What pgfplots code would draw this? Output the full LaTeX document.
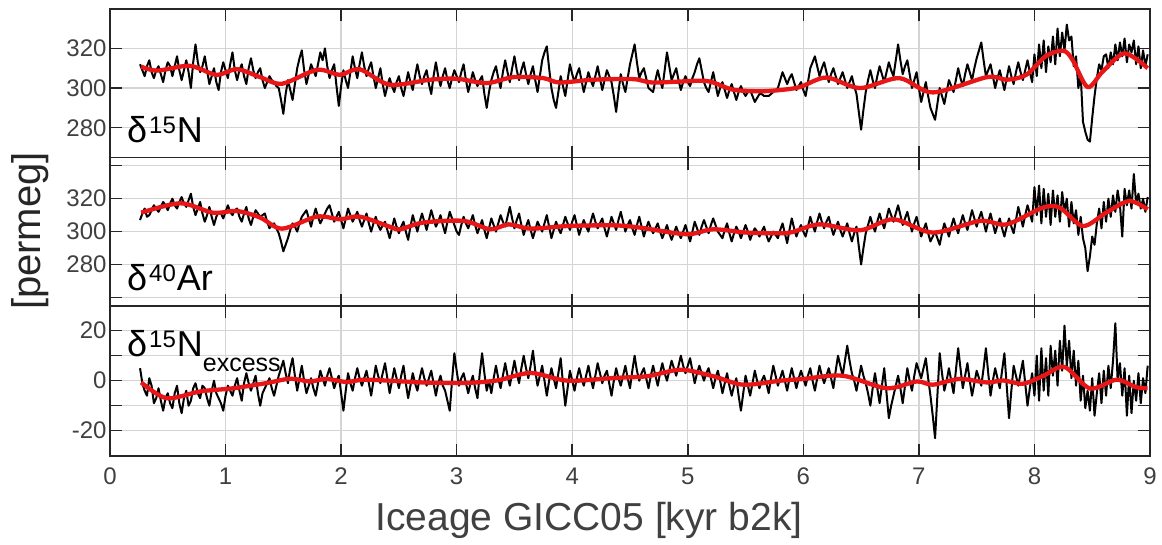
\documentclass[border=0pt]{standalone}
\usepackage{fontspec}
\setmainfont{Liberation Sans}
\usepackage{pgfplots}
\usepackage{pgfplotstable}
\pgfplotsset{compat=1.18}

\definecolor{fitred}{RGB}{232,22,22}
\definecolor{axgray}{RGB}{38,38,38}
\definecolor{lblgray}{RGB}{64,64,64}

% measured series: x [kyr b2k], d15N, d40Ar, d15N excess [permeg]
\pgfplotstableread{
x n a e
0.26 312 307 5
0.28 309 311 -1
0.30 306 314 -4
0.32 311 309 -6
0.34 314 310 1
0.36 308 313 -2
0.38 305 316 -9
0.40 309 314 -7
0.42 311 312 -3
0.44 307 315 -8
0.46 303 318 -12
0.48 309 316 -7
0.50 313 313 -5
0.52 311 317 -9
0.54 306 320 -11
0.56 311 316 -5
0.58 316 314 -2
0.60 309 318 -9
0.62 304 321 -13
0.64 309 317 -7
0.66 314 315 -4
0.68 308 319 -10
0.70 300 323 -8
0.72 313 315 -3
0.74 322 310 -1
0.76 313 314 -5
0.78 308 318 -7
0.80 311 311 -2
0.82 316 306 -3
0.84 309 310 -7
0.86 302 315 -10
0.88 306 309 -4
0.90 310 304 0
0.92 303 309 -5
0.94 299 312 -7
0.96 308 311 -9
0.98 313 308 -12
1.00 309 312 -6
1.02 305 316 -2
1.04 312 312 -4
1.06 318 310 -6
1.08 309 313 -2
1.10 304 314 1
1.12 309 309 -4
1.14 312 306 -8
1.16 306 311 -1
1.18 302 315 3
1.20 310 308 -1
1.22 315 304 -4
1.24 309 309 -1
1.26 305 313 2
1.28 308 311 -5
1.30 310 309 -10
1.32 304 310 -5
1.34 300 311 -3
1.36 303 306 -1
1.38 306 302 1
1.40 304 304 -3
1.42 303 305 -6
1.44 301 302 -2
1.46 300 299 2
1.48 294 294 5
1.50 287 288 8
1.52 297 292 3
1.54 304 296 -1
1.56 299 301 5
1.58 294 305 9
1.60 302 303 2
1.62 310 300 -4
1.64 315 305 1
1.66 319 309 6
1.68 309 311 0
1.70 302 313 -5
1.72 307 308 -2
1.74 312 303 1
1.76 309 309 -3
1.78 306 314 -6
1.80 312 309 -1
1.82 318 305 4
1.84 314 308 1
1.86 320 311 -2
1.88 311 314 2
1.90 305 316 5
1.92 309 311 1
1.94 312 306 -3
1.96 301 309 0
1.98 291 312 2
2.00 301 307 -5
2.02 309 302 -12
2.04 304 308 -4
2.06 300 314 3
2.08 308 310 -1
2.10 316 306 -4
2.12 310 309 1
2.14 305 312 5
2.16 312 307 1
2.18 318 303 -2
2.20 311 307 1
2.22 306 311 4
2.24 310 305 -1
2.26 313 300 -6
2.28 306 305 0
2.30 300 309 6
2.32 305 304 2
2.34 310 301 -1
2.36 302 304 3
2.38 296 306 7
2.40 301 301 1
2.42 305 296 -5
2.44 301 302 0
2.46 298 308 5
2.48 303 303 1
2.50 306 299 -3
2.52 300 303 2
2.54 296 306 6
2.56 302 300 -1
2.58 308 295 -7
2.60 303 303 -2
2.62 299 310 3
2.64 306 305 -1
2.66 312 300 -4
2.68 306 306 1
2.70 302 311 5
2.72 306 306 1
2.74 309 301 -2
2.76 302 307 1
2.78 297 313 4
2.80 306 308 -1
2.82 313 303 -6
2.84 306 306 -1
2.86 301 310 2
2.88 306 304 -2
2.90 310 299 -4
2.92 304 306 -8
2.94 300 312 -12
2.96 305 308 0
2.98 309 304 11
3.00 306 300 4
3.02 303 298 -2
3.04 308 304 1
3.06 312 309 3
3.08 304 305 -1
3.10 298 302 -5
3.12 303 306 -1
3.14 308 310 2
3.16 304 304 -3
3.18 301 299 -7
3.20 304 303 3
3.22 306 307 11
3.24 297 301 3
3.26 290 296 -4
3.28 298 302 0
3.30 304 308 -5
3.32 308 304 1
3.34 311 300 6
3.36 305 305 1
3.38 300 310 -3
3.40 308 306 2
3.42 314 303 7
3.44 308 309 2
3.46 303 315 -2
3.48 310 308 3
3.50 316 302 8
3.52 309 307 3
3.54 304 311 -1
3.56 309 304 5
3.58 313 298 10
3.60 307 303 5
3.62 302 307 1
3.64 307 301 6
3.66 311 296 12
3.68 304 301 4
3.70 298 306 -2
3.72 306 303 2
3.74 314 300 6
3.76 318 305 0
3.78 321 310 -6
3.80 310 303 0
3.82 300 296 5
3.84 294 301 1
3.86 290 306 -3
3.88 298 302 3
3.90 306 299 9
3.92 301 304 -1
3.94 296 309 -10
3.96 304 305 -3
3.98 312 301 4
4.00 307 306 0
4.02 303 310 -4
4.04 307 304 1
4.06 310 298 5
4.08 304 303 1
4.10 298 307 -2
4.12 303 303 2
4.14 308 300 6
4.16 304 306 1
4.18 301 311 -3
4.20 306 306 2
4.22 311 302 7
4.24 305 305 3
4.26 299 308 -1
4.28 304 302 2
4.30 309 297 4
4.32 306 303 -1
4.34 303 309 -6
4.36 296 305 0
4.38 288 301 5
4.40 298 307 1
4.42 307 312 -2
4.44 302 306 2
4.46 298 300 6
4.48 305 304 1
4.50 312 307 -3
4.52 317 302 4
4.54 322 298 10
4.56 313 304 4
4.58 305 309 0
4.60 308 303 3
4.62 310 297 5
4.64 305 302 1
4.66 300 306 -3
4.68 299 302 2
4.70 298 299 6
4.72 304 302 2
4.74 309 305 -2
4.76 304 300 3
4.78 300 296 7
4.80 309 300 3
4.82 318 304 0
4.84 311 299 4
4.86 304 295 8
4.88 307 299 5
4.90 310 303 2
4.92 304 299 6
4.94 299 296 10
4.96 303 300 6
4.98 306 304 3
5.00 303 299 6
5.02 301 294 9
5.04 305 300 4
5.06 308 306 -1
5.08 312 302 3
5.10 315 298 6
5.12 309 303 3
5.14 303 307 0
5.16 300 303 3
5.18 298 299 5
5.20 303 304 1
5.22 308 308 -3
5.24 302 304 1
5.26 296 300 4
5.28 300 298 0
5.30 303 296 -5
5.32 299 301 -1
5.34 295 305 3
5.36 299 299 -2
5.38 302 294 -6
5.40 298 299 -2
5.42 294 303 1
5.44 298 300 -6
5.46 301 296 -12
5.48 298 300 -5
5.50 296 304 2
5.52 298 300 -2
5.54 299 295 -6
5.56 296 299 -1
5.58 293 302 4
5.60 295 300 0
5.62 297 297 -3
5.64 297 300 0
5.66 296 303 2
5.68 296 298 -1
5.70 296 294 -5
5.72 297 297 1
5.74 298 300 6
5.76 299 298 2
5.78 300 296 -2
5.80 304 301 1
5.82 308 305 4
5.84 305 299 0
5.86 302 293 -4
5.88 305 301 1
5.90 307 308 5
5.92 303 302 1
5.94 299 297 -3
5.96 301 301 1
5.98 303 304 4
6.00 299 300 1
6.02 296 297 -2
6.04 303 303 2
6.06 310 309 5
6.08 313 304 0
6.10 316 300 -4
6.12 311 306 1
6.14 306 311 6
6.16 310 306 2
6.18 313 302 -1
6.20 308 306 2
6.22 303 309 5
6.24 307 303 1
6.26 310 298 -3
6.28 306 302 4
6.30 302 306 10
6.32 305 301 6
6.34 308 297 2
6.36 304 301 8
6.38 300 305 14
6.40 303 299 8
6.42 306 294 3
6.44 301 299 0
6.46 297 303 -4
6.48 288 291 1
6.50 279 280 6
6.52 289 290 2
6.54 298 299 -1
6.56 304 304 -5
6.58 309 309 -10
6.60 304 304 -3
6.62 300 300 3
6.64 306 306 -3
6.66 311 311 -9
6.68 307 306 -2
6.70 303 302 5
6.72 308 308 -5
6.74 313 314 -15
6.76 309 310 -10
6.78 306 306 -6
6.80 314 311 -2
6.82 322 316 2
6.84 314 310 -3
6.86 307 304 -9
6.88 311 308 -2
6.90 314 312 5
6.92 307 306 0
6.94 300 300 -4
6.96 304 305 2
6.98 308 309 7
7.00 300 303 4
7.02 293 297 1
7.04 298 301 5
7.06 303 305 9
7.08 296 299 1
7.10 290 294 -6
7.12 287 297 -14
7.14 284 300 -23
7.16 292 296 -6
7.18 300 292 11
7.20 296 299 3
7.22 292 305 -4
7.24 298 301 0
7.26 304 297 5
7.28 301 303 0
7.30 298 308 -5
7.32 304 303 4
7.34 310 299 13
7.36 305 305 5
7.38 301 310 -3
7.40 307 305 2
7.42 312 301 7
7.44 308 307 0
7.46 304 313 -6
7.48 310 308 -1
7.50 315 303 4
7.52 319 308 1
7.54 323 312 -2
7.56 314 306 5
7.58 306 300 13
7.60 309 306 3
7.62 312 311 -6
7.64 306 305 0
7.66 300 299 5
7.68 305 304 1
7.70 309 308 -3
7.72 304 302 4
7.74 299 297 11
7.76 305 303 -2
7.78 311 308 -15
7.80 306 303 -4
7.82 302 299 6
7.84 308 307 2
7.86 313 315 -2
7.88 308 309 3
7.90 304 303 8
7.92 309 310 -1
7.94 314 316 -10
7.96 308 311 -3
7.98 303 306 3
8.00 317 327 -6
8.02 306 310 10
8.04 322 328 -8
8.06 310 305 13
8.08 324 326 -4
8.10 308 309 9
8.12 321 323 -6
8.14 313 304 14
8.16 326 325 2
8.18 312 309 12
8.20 330 322 -2
8.22 316 306 16
8.24 328 324 4
8.26 319 312 22
8.28 332 320 6
8.30 324 303 16
8.32 326 318 1
8.34 311 305 12
8.36 316 313 -2
8.38 300 298 8
8.40 307 309 -8
8.42 283 296 2
8.44 278 290 -11
8.46 274 276 -4
8.48 273 285 -12
8.50 285 297 1
8.52 296 292 -14
8.54 305 305 -5
8.56 312 314 3
8.58 309 302 -9
8.60 316 318 4
8.62 317 306 -6
8.64 310 320 6
8.66 318 309 -3
8.68 312 322 8
8.70 322 312 23
8.72 314 325 0
8.74 323 316 7
8.76 316 297 -6
8.78 325 326 5
8.80 313 316 -14
8.82 322 325 2
8.84 318 314 -13
8.86 324 335 0
8.88 312 317 -8
8.90 321 323 3
8.92 310 314 -9
8.94 319 320 1
8.96 311 312 -5
8.98 317 321 6
}\iso

% smoothed curves
\pgfplotstableread{
x y
0.27 310.8
0.41 308.8
0.69 311.2
0.92 306.7
1.10 309.5
1.30 305.5
1.49 302.2
1.79 309.2
1.99 306.7
2.16 309.5
2.42 301.7
2.77 304.2
3.00 304.7
3.26 302.5
3.49 305.5
3.75 305.0
3.89 302.8
4.18 304.2
4.53 304.5
4.70 302.8
5.10 303.7
5.22 302.8
5.39 299.2
5.62 298.4
5.80 299.0
5.97 300.5
6.20 305.3
6.49 300.0
6.83 305.0
7.12 297.8
7.59 305.5
7.76 304.2
7.93 306.7
8.10 316.2
8.25 318.8
8.33 314.2
8.46 300.5
8.59 308.3
8.78 317.5
8.98 310.0
}\fitN

\pgfplotstableread{
x y
0.27 311.5
0.61 317.2
0.89 311.5
1.10 312.5
1.30 308.5
1.49 301.8
1.79 309.1
1.99 307.5
2.16 309.1
2.42 303.0
2.51 301.4
2.71 305.5
3.06 306.5
3.29 301.4
3.45 304.4
3.64 301.8
3.96 303.4
4.36 303.8
4.59 302.4
4.99 298.4
5.22 301.4
5.51 299.4
5.80 299.0
5.91 299.8
6.14 304.4
6.49 300.8
6.78 307.5
7.12 299.4
7.53 306.5
7.76 304.4
8.07 314.5
8.22 314.5
8.42 303.4
8.62 311.5
8.82 318.6
8.98 313.5
}\fitA

\pgfplotstableread{
x y
0.27 -0.7
0.49 -7.0
0.78 -4.3
1.07 -3.0
1.36 -0.9
1.56 0.8
1.73 -0.3
1.87 0.7
2.05 -0.5
2.22 0.4
2.71 -0.7
3.06 -0.9
3.35 0.1
3.64 3.1
3.96 0.0
4.36 1.1
4.65 1.8
4.94 4.4
5.22 1.8
5.48 -1.6
5.80 0.0
6.00 0.7
6.34 2.0
6.72 -3.0
6.98 -0.3
7.12 -1.6
7.35 0.7
7.59 -0.7
7.73 0.1
7.90 -1.2
8.07 1.8
8.26 5.5
8.48 -3.1
8.71 0.4
8.88 -2.6
8.98 -3.0
}\fitE

\pgfplotsset{
  panel/.style={
    scale only axis, width=1040pt, anchor=north west,
    xmin=0, xmax=9, xtick={0,1,2,3,4,5,6,7,8,9},
    tick align=inside, xtick pos=both, ytick pos=both,
    major tick length=12pt,
    grid=major, major grid style={draw=black!17, line width=1.3pt},
    axis line style={draw=axgray, line width=1.8pt},
    tick style={draw=axgray, line width=1.5pt},
    ticklabel style={font=\fontsize{24}{28}\selectfont, text=lblgray},
  },
  meas/.style={black, line width=2pt, line join=round},
  fit/.style={fitred, line width=4.3pt, smooth},
}

\begin{document}
\begin{tikzpicture}
\path[use as bounding box] (0pt,0pt) rectangle (1162pt,-544pt);

\begin{axis}[panel, at={(110pt,-8.7pt)}, height=148.8pt,
  ymin=265, ymax=340, ytick={280,300,320}, yticklabels={280,300,320},
  xticklabels={,,,,,,,,,}]
\addplot[meas] table[x=x, y=n] {\iso};
\addplot[fit] table[x=x, y=y] {\fitN};
\end{axis}

\begin{axis}[panel, at={(110pt,-157.5pt)}, height=148.2pt,
  ymin=255, ymax=345, ytick={260,280,300,320,340}, yticklabels={,280,300,320,},
  xticklabels={,,,,,,,,,}]
\addplot[meas] table[x=x, y=a] {\iso};
\addplot[fit] table[x=x, y=y] {\fitA};
\end{axis}

\begin{axis}[panel, at={(110pt,-305.7pt)}, height=150pt,
  ymin=-30, ymax=30, ytick={-20,-10,0,10,20}, yticklabels={-20,,0,,20},
  xticklabels={0,1,2,3,4,5,6,7,8,9},
  xticklabel style={yshift=-9pt}]
\addplot[meas] table[x=x, y=e] {\iso};
\addplot[fit] table[x=x, y=y] {\fitE};
\end{axis}

\node[anchor=base west, inner sep=0pt, font=\fontsize{36}{40}\selectfont] at (127pt,-142pt)
  {δ\hspace{2pt}\raisebox{9pt}{\fontsize{24}{28}\selectfont 15}\hspace{1pt}N};
\node[anchor=base west, inner sep=0pt, font=\fontsize{36}{40}\selectfont] at (127pt,-290pt)
  {δ\hspace{2pt}\raisebox{9pt}{\fontsize{24}{28}\selectfont 40}\hspace{1pt}Ar};
\node[anchor=base west, inner sep=0pt, font=\fontsize{36}{40}\selectfont] at (127pt,-356pt)
  {δ\hspace{2pt}\raisebox{9pt}{\fontsize{24}{28}\selectfont 15}\hspace{1pt}N\raisebox{-15pt}{\fontsize{25}{28}\selectfont excess}};

\node[rotate=90, font=\fontsize{40}{46}\selectfont, text=axgray] at (30pt,-231pt) {[permeg]};
\node[font=\fontsize{39}{44}\selectfont, text=lblgray] at (589pt,-520pt) {Iceage GICC05 [kyr b2k]};
\end{tikzpicture}
\end{document}
